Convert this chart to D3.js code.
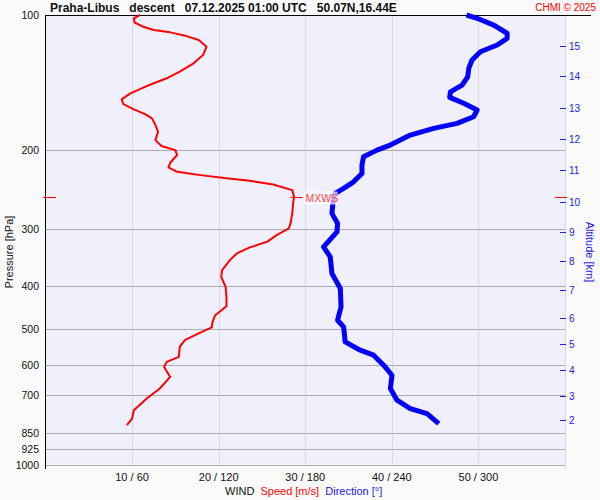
<!DOCTYPE html>
<html>
<head>
<meta charset="utf-8">
<script src="https://cdn.jsdelivr.net/npm/d3@7/dist/d3.min.js"></script>
<style>
body { margin: 0; background: #fafafa; }
svg { display: block; font-family: "Liberation Sans", Arial, sans-serif; }
</style>
</head>
<body>
<div id="svgcontainer"></div>
<script>
const pressureTicks = [100, 200, 300, 400, 500, 600, 700, 850, 925, 1000]
const windTicks = [10, 20, 30, 40, 50]
const windTickLabels = ["10 / 60", "20 / 120", "30 / 180", "40 / 240", "50 / 300"]

// altitude ticks [km] and the pressure [hPa] they sit at in this sounding
const altitudeKm = [2, 3, 4, 5, 6, 7, 8, 9, 10, 11, 12, 13, 14, 15]
const altitudePressure = [798, 705, 617, 540, 473, 410, 353, 304, 260, 221, 189, 161, 137, 117]

// wind speed profile
const speedPressure = [100, 101.7, 104, 106.2, 108, 109.3, 111.4, 113.7, 117.6, 122.8,
    128.1, 133.7, 138.3, 143.9, 149.4, 154.1, 157.8, 162.1, 166.1, 169.8,
    175.7, 181.9, 189.8, 195.7, 199.8, 204.9, 213.2, 218.3, 223.3, 227.1,
    230.9, 233.8, 238.2, 245.2, 253.8, 262.5, 276.3, 290.9, 298.4, 308.8,
    319.6, 328.9, 339.2, 351, 369.5, 382.4, 402.5, 423.7, 444.4, 465.4,
    481.6, 495.6, 513, 529, 547.5, 576.3, 591.2, 606.6, 638.5, 677.6,
    713.2, 757.3, 790.2, 817.8]
const speedValues = [10.9, 10.2, 10.3, 11.3, 12.5, 14.4, 16.3, 17.7, 18.6, 18.2,
    17.1, 15.5, 14.0, 11.7, 9.8, 8.8, 9.0, 10.2, 11.5, 12.3,
    12.7, 13.0, 12.7, 13.4, 15.0, 15.2, 14.4, 14.2, 15.2, 17.9,
    20.9, 23.6, 26.3, 28.5, 28.7, 28.6, 28.5, 28.3, 28.1, 26.7,
    25.6, 23.6, 22.1, 21.3, 20.4, 20.3, 20.8, 20.9, 20.9, 19.6,
    19.3, 19.2, 17.5, 16.1, 15.5, 15.4, 14.0, 13.7, 14.4, 13.2,
    11.7, 10.2, 10.0, 9.4]

// wind direction profile
const directionPressure = [100, 101.7, 105.3, 109.8, 112.7, 116.6, 120.7, 125.9, 131.4, 137.2,
    143.2, 148.2, 152.5, 157.2, 162.7, 168.4, 174.2, 178.7, 185, 194.7,
    199.8, 206.7, 215.7, 225.1, 235, 243.1, 249.4, 253.8, 276.3, 290.9,
    303.6, 327.9, 345.2, 375.8, 405.8, 446, 477.5, 494.1, 533.7, 556.8,
    571.2, 601.2, 633, 677.6, 719.4, 750.7, 770.2, 810.7]
const directionValues = [291.7, 299.1, 310.6, 319.9, 319.9, 313.0, 301.4, 295.6, 293.3, 292.6,
    288.7, 280.6, 280.1, 289.8, 299.1, 296.7, 285.2, 269.0, 252.8, 238.9,
    229.7, 220.4, 219.3, 219.3, 213.5, 206.6, 200.8, 199.6, 198.5, 202.4,
    202.0, 192.7, 197.3, 198.5, 204.3, 204.8, 202.4, 206.6, 207.7, 218.1,
    227.4, 234.3, 240.1, 239.0, 243.6, 252.8, 264.4, 272.5]

const maxWindPressure = 254
const maxWindSpeed = 29

const WIDTH = 600
const HEIGHT = 500
const LEFT = 45
const RIGHT = 565
const TOP = 15
const BOTTOM = 464.5

const RED = "#ff0000"
const BLUE = "#0000ff"
const LABEL_BLUE = "#2020e8"

const svg = d3.select("#svgcontainer")
    .append("svg")
    .attr("width", WIDTH)
    .attr("height", HEIGHT)

const y = d3.scaleLog().domain([100, 1000]).range([TOP, BOTTOM])
const xSpeed = d3.scaleLinear().domain([0, 60]).range([LEFT + 0.5, RIGHT])
const xDir = d3.scaleLinear().domain([0, 360]).range([LEFT + 0.5, RIGHT])
const crisp = v => Math.round(v) + 0.5

svg.append("rect")
    .attr("width", WIDTH)
    .attr("height", HEIGHT)
    .attr("fill", "#fafafa")

svg.append("rect")
    .attr("x", LEFT)
    .attr("y", TOP)
    .attr("width", RIGHT - LEFT)
    .attr("height", BOTTOM - TOP)
    .attr("fill", "#f0f0fd")

// vertical grid
svg.append("g")
    .selectAll("line")
    .data(windTicks.concat([60]))
    .join("line")
        .attr("x1", d => crisp(xSpeed(d)))
        .attr("x2", d => crisp(xSpeed(d)))
        .attr("y1", TOP)
        .attr("y2", d => d === 60 ? 470 : BOTTOM)
        .attr("stroke", "#d9d9de")

// horizontal grid
svg.append("g")
    .selectAll("line")
    .data(pressureTicks.slice(1))
    .join("line")
        .attr("x1", LEFT)
        .attr("x2", RIGHT)
        .attr("y1", d => crisp(y(d)))
        .attr("y2", d => crisp(y(d)))
        .attr("stroke", "#aaaaaa")

// pressure labels
svg.append("g")
    .selectAll("text")
    .data(pressureTicks)
    .join("text")
        .attr("x", 39)
        .attr("y", d => y(d) + 4)
        .attr("text-anchor", "end")
        .attr("font-size", "10.5px")
        .attr("fill", "#111")
        .text(d => d)

// wind labels
svg.append("g")
    .selectAll("text")
    .data(windTicks)
    .join("text")
        .attr("x", d => xSpeed(d))
        .attr("y", 481)
        .attr("text-anchor", "middle")
        .attr("font-size", "11px")
        .attr("fill", "#111")
        .text((d, i) => windTickLabels[i])

// altitude axis
let alt = svg.append("g")
    .selectAll("g")
    .data(altitudeKm)
    .join("g")
        .attr("transform", (d, i) => `translate(0 ${crisp(y(altitudePressure[i]))})`)
alt.append("line")
    .attr("x1", 560)
    .attr("x2", 566)
    .attr("stroke", LABEL_BLUE)
alt.append("text")
    .attr("x", 569)
    .attr("y", 3.5)
    .attr("font-size", "10px")
    .attr("fill", LABEL_BLUE)
    .text(d => d)

// axis lines
svg.append("line")
    .attr("x1", LEFT + 0.5).attr("x2", LEFT + 0.5)
    .attr("y1", TOP).attr("y2", 469)
    .attr("stroke", "#000")
svg.append("line")
    .attr("x1", LEFT).attr("x2", 591)
    .attr("y1", TOP + 0.5).attr("y2", TOP + 0.5)
    .attr("stroke", "#000")

// profiles
let speedData = speedPressure.map((p, i) => ({ p: p, v: speedValues[i] }))
let dirData = directionPressure.map((p, i) => ({ p: p, v: directionValues[i] }))

svg.append("path")
    .datum(dirData)
    .attr("d", d3.line().x(d => xDir(d.v)).y(d => y(d.p)))
    .attr("fill", "none")
    .attr("stroke", BLUE)
    .attr("stroke-width", 5)
    .attr("stroke-linejoin", "round")

svg.append("path")
    .datum(speedData)
    .attr("d", d3.line().x(d => xSpeed(d.v)).y(d => y(d.p)))
    .attr("fill", "none")
    .attr("stroke", RED)
    .attr("stroke-width", 2)
    .attr("stroke-linejoin", "round")

// max wind marker
let my = crisp(y(maxWindPressure))
let mx = xSpeed(maxWindSpeed)
svg.append("line")
    .attr("x1", mx - 6).attr("x2", mx + 6)
    .attr("y1", my).attr("y2", my)
    .attr("stroke", RED)
svg.append("line")
    .attr("x1", LEFT - 2).attr("x2", LEFT + 11)
    .attr("y1", my).attr("y2", my)
    .attr("stroke", RED)
svg.append("line")
    .attr("x1", 555).attr("x2", 567)
    .attr("y1", my).attr("y2", my)
    .attr("stroke", RED)
svg.append("rect")
    .attr("x", mx + 7)
    .attr("y", my - 6)
    .attr("width", 34)
    .attr("height", 13)
    .attr("fill", "#fff")
    .attr("fill-opacity", 0.7)
svg.append("text")
    .attr("x", mx + 9)
    .attr("y", my + 4.5)
    .attr("font-size", "10.5px")
    .attr("fill", "#ff4040")
    .text("MXWS")

// titles
svg.append("text")
    .attr("x", 50)
    .attr("y", 12)
    .attr("font-size", "12px")
    .attr("font-weight", "bold")
    .attr("fill", "#111")
    .style("white-space", "pre")
    .text("Praha-Libus   descent   07.12.2025 01:00 UTC   50.07N,16.44E")

svg.append("text")
    .attr("x", 596)
    .attr("y", 11)
    .attr("text-anchor", "end")
    .attr("font-size", "10px")
    .attr("fill", RED)
    .text("CHMI © 2025")

svg.append("text")
    .attr("transform", "translate(12.5 252) rotate(-90)")
    .attr("text-anchor", "middle")
    .attr("font-size", "11px")
    .attr("fill", "#111")
    .text("Pressure [hPa]")

svg.append("text")
    .attr("transform", "translate(585.5 252) rotate(90)")
    .attr("text-anchor", "middle")
    .attr("font-size", "11px")
    .attr("fill", LABEL_BLUE)
    .text("Altitude [km]")

// legend line under the x axis
let legend = svg.append("text")
    .attr("x", 225)
    .attr("y", 495)
    .attr("font-size", "11px")
    .style("white-space", "pre")
legend.append("tspan").attr("fill", "#111").text("WIND  ")
legend.append("tspan").attr("fill", RED).text("Speed [m/s]  ")
legend.append("tspan").attr("fill", LABEL_BLUE).text("Direction [°]")
</script>
</body>
</html>
